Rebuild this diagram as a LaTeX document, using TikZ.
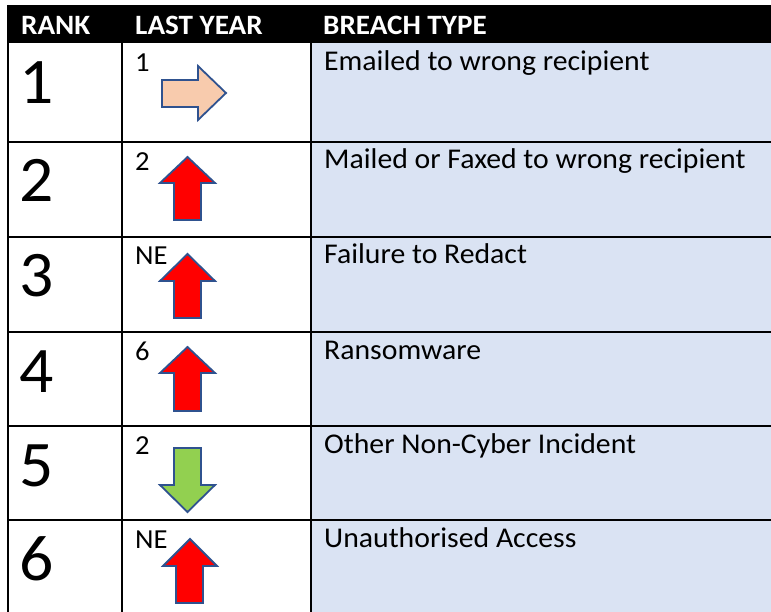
\documentclass[tikz,border=0pt]{standalone}
\usepackage{fontspec}
\setmainfont{Carlito}[FakeStretch=1.04]
\definecolor{cellblue}{HTML}{DAE3F3}
\definecolor{arrline}{HTML}{2F528F}
\definecolor{peach}{HTML}{F8CBAD}
\definecolor{upred}{HTML}{FF0000}
\definecolor{downgreen}{HTML}{92D050}
\begin{document}
\begin{tikzpicture}[x=1pt,y=-1pt,
  grid/.style={line width=2pt,black},
  hdr/.style={anchor=base west,inner sep=0pt,text=white,font=\fontsize{28}{32}\selectfont\bfseries},
  rankno/.style={anchor=base west,inner sep=0pt,font=\fontsize{65}{70}\selectfont},
  prev/.style={anchor=base west,inner sep=0pt,font=\fontsize{27.5}{30}\selectfont},
  breach/.style={anchor=base west,inner sep=0pt,font=\fontsize{28.6}{32}\selectfont},
  arr/.style={draw=arrline,line width=1.8pt,line join=miter}]
\useasboundingbox (0,0) rectangle (771,612);
\fill[white] (0,0) rectangle (771,612);
% blue column
\fill[cellblue] (311,43) rectangle (771,612);
% header
\fill[black] (7,5) rectangle (771,43);
% grid lines
\foreach \y in {142,237,332,426,520} \draw[grid] (7,\y) -- (771,\y);
\draw[grid] (7.5,5) -- (7.5,612);
\draw[grid] (122,43) -- (122,612);
\draw[grid] (311,43) -- (311,612);
% header text
\node[hdr] (h1) at (21,35) {RANK};
\node[hdr] (h2) at (135,35) {LAST YEAR};
\node[hdr] (h3) at (323,35) {BREACH TYPE};
% rank numbers
\node[rankno] (r1) at (19,104) {1};
\node[rankno] (r2) at (19,202) {2};
\node[rankno] (r3) at (19,297) {3};
\node[rankno] (r4) at (19,392) {4};
\node[rankno] (r5) at (19,486) {5};
\node[rankno] (r6) at (19,580) {6};
% last year labels
\node[prev] (p1) at (135,72) {1};
\node[prev] (p2) at (135,171) {2};
\node[prev] (p3) at (135,265) {NE};
\node[prev] (p4) at (135,360) {6};
\node[prev] (p5) at (135,454) {2};
\node[prev] (p6) at (135,548) {NE};
% breach types
\node[breach] (b1) at (324,71) {Emailed to wrong recipient};
\node[breach] (b2) at (324,169) {Mailed or Faxed to wrong recipient};
\node[breach] (b3) at (324,264) {Failure to Redact};
\node[breach] (b4) at (324,359) {Ransomware};
\node[breach] (b5) at (324,453) {Other Non-Cyber Incident};
\node[breach] (b6) at (324,547) {Unauthorised Access};
% arrows
\filldraw[arr,fill=peach] (162,80) -- (198,80) -- (198,66) -- (226,93) -- (198,120) -- (198,107) -- (162,107) -- cycle;
\filldraw[arr,fill=upred] (187.5,157) -- (215,183) -- (201,183) -- (201,220) -- (174,220) -- (174,183) -- (160,183) -- cycle;
\filldraw[arr,fill=upred] (187.5,254) -- (215,281) -- (201,281) -- (201,318) -- (174,318) -- (174,281) -- (160,281) -- cycle;
\filldraw[arr,fill=upred] (187.5,347) -- (215,373) -- (201,373) -- (201,411) -- (174,411) -- (174,373) -- (160,373) -- cycle;
\filldraw[arr,fill=downgreen] (187.5,512) -- (215,485) -- (201,485) -- (201,448) -- (174,448) -- (174,485) -- (160,485) -- cycle;
\filldraw[arr,fill=upred] (190,539) -- (217,566) -- (203,566) -- (203,603) -- (176,603) -- (176,566) -- (163,566) -- cycle;
\end{tikzpicture}
\end{document}
